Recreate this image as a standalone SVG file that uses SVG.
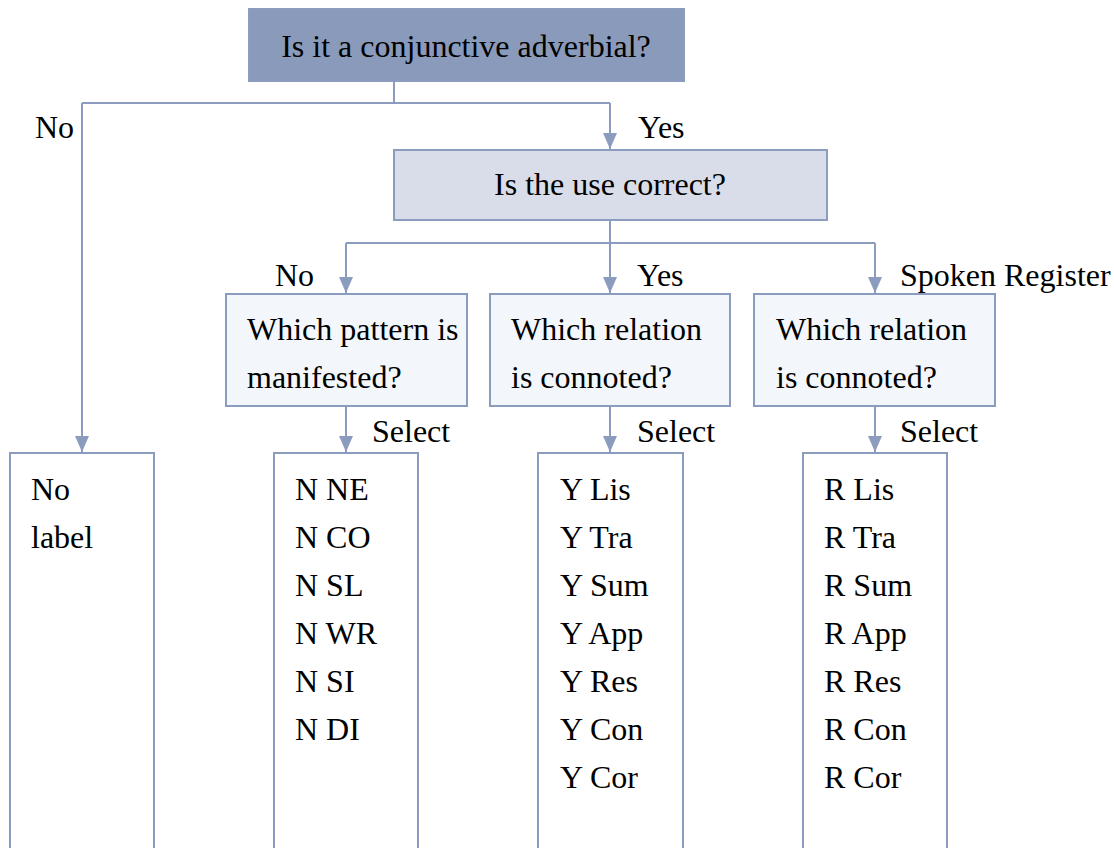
<svg xmlns="http://www.w3.org/2000/svg" width="1114" height="848" viewBox="0 0 1114 848">
  <style>
    text { font-size: 32px; fill: #000; }
    .c { text-anchor: middle; }
    .box { stroke: #8c9cbe; stroke-width: 2; }
    .conn { fill: none; stroke: #8c9cbe; stroke-width: 2; }
  </style>
  <defs>
    <marker id="arr" markerUnits="userSpaceOnUse" markerWidth="16" markerHeight="14" refX="16" refY="7" orient="auto">
      <path d="M0,0 L16,7 L0,14 z" fill="#8c9cbe"/>
    </marker>
  </defs>
  <rect width="1114" height="848" fill="#ffffff"/>

  <g id="connectors">
    <path class="conn" d="M394,81 V103"/>
    <path class="conn" d="M82,103 H610"/>
    <path class="conn" d="M82,103 V452" marker-end="url(#arr)"/>
    <path class="conn" d="M610,103 V149" marker-end="url(#arr)"/>
    <path class="conn" d="M610,220 V243"/>
    <path class="conn" d="M346,243 H875"/>
    <path class="conn" d="M346,243 V293" marker-end="url(#arr)"/>
    <path class="conn" d="M610,243 V293" marker-end="url(#arr)"/>
    <path class="conn" d="M875,243 V293" marker-end="url(#arr)"/>
    <path class="conn" d="M346,406 V452" marker-end="url(#arr)"/>
    <path class="conn" d="M610,406 V452" marker-end="url(#arr)"/>
    <path class="conn" d="M875,406 V452" marker-end="url(#arr)"/>
  </g>

  <g font-family="Liberation Serif">
  <g id="labels">
    <text x="35" y="138">No</text>
    <text x="638" y="138">Yes</text>
    <text x="275" y="286">No</text>
    <text x="637" y="286">Yes</text>
    <text x="900" y="286">Spoken Register</text>
    <text x="372" y="442">Select</text>
    <text x="637" y="442">Select</text>
    <text x="900" y="442">Select</text>
  </g>

  <g id="q1">
    <rect class="box" x="249" y="9" width="435" height="72" fill="#8a9aba"/>
    <text class="c" x="466" y="57">Is it a conjunctive adverbial?</text>
  </g>

  <g id="q2">
    <rect class="box" x="394" y="150" width="433" height="70" fill="#d8dde9"/>
    <text class="c" x="610" y="195">Is the use correct?</text>
  </g>

  <g id="q-pattern">
    <rect class="box" x="226" y="294" width="241" height="112" fill="#f3f7fb"/>
    <text x="247" y="340">Which pattern is</text>
    <text x="247" y="388">manifested?</text>
  </g>

  <g id="q-relation-yes">
    <rect class="box" x="490" y="294" width="240" height="112" fill="#f3f7fb"/>
    <text x="511" y="340">Which relation</text>
    <text x="511" y="388">is connoted?</text>
  </g>

  <g id="q-relation-spoken">
    <rect class="box" x="754" y="294" width="241" height="112" fill="#f3f7fb"/>
    <text x="776" y="340">Which relation</text>
    <text x="776" y="388">is connoted?</text>
  </g>

  <g id="out-no">
    <rect class="box" x="10" y="453" width="144" height="410" fill="#ffffff"/>
    <text x="31" y="500">No</text>
    <text x="31" y="548">label</text>
  </g>

  <g id="out-n">
    <rect class="box" x="274" y="453" width="144" height="410" fill="#ffffff"/>
    <text x="295" y="500">N NE</text>
    <text x="295" y="548">N CO</text>
    <text x="295" y="596">N SL</text>
    <text x="295" y="644">N WR</text>
    <text x="295" y="692">N SI</text>
    <text x="295" y="740">N DI</text>
  </g>

  <g id="out-y">
    <rect class="box" x="538" y="453" width="145" height="410" fill="#ffffff"/>
    <text x="560" y="500">Y Lis</text>
    <text x="560" y="548">Y Tra</text>
    <text x="560" y="596">Y Sum</text>
    <text x="560" y="644">Y App</text>
    <text x="560" y="692">Y Res</text>
    <text x="560" y="740">Y Con</text>
    <text x="560" y="788">Y Cor</text>
  </g>

  <g id="out-r">
    <rect class="box" x="803" y="453" width="144" height="410" fill="#ffffff"/>
    <text x="824" y="500">R Lis</text>
    <text x="824" y="548">R Tra</text>
    <text x="824" y="596">R Sum</text>
    <text x="824" y="644">R App</text>
    <text x="824" y="692">R Res</text>
    <text x="824" y="740">R Con</text>
    <text x="824" y="788">R Cor</text>
  </g>
  </g>
</svg>
